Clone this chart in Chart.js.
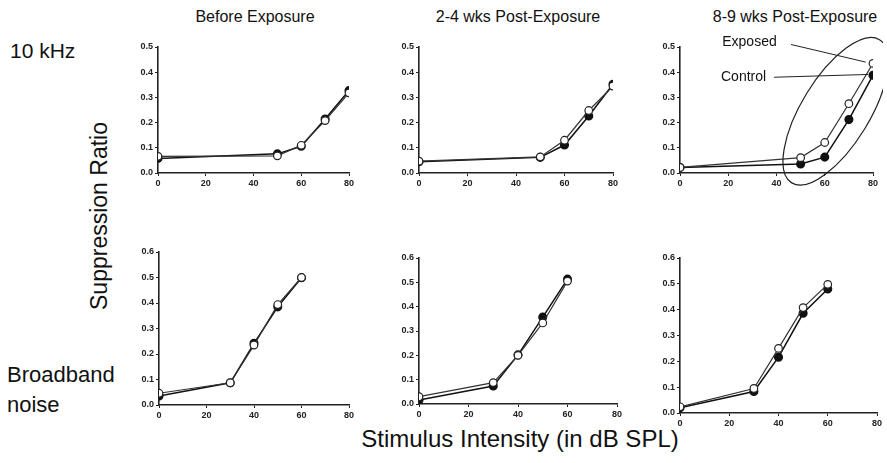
<!DOCTYPE html>
<html lang="en">
<head>
    <meta charset="UTF-8">
    <title>Suppression Ratio</title>
    <script src="https://cdn.jsdelivr.net/npm/chart.js"></script>
    <style>
        body { margin: 0; background: #fff; font-family: 'Liberation Sans', Arial, sans-serif; color: #111; }
        #page { position: relative; width: 887px; height: 463px; overflow: hidden; }
        .txt { position: absolute; white-space: nowrap; }
        .title { font-size: 16px; top: 8px; transform: translateX(-50%); }
        canvas { position: absolute; }
    </style>
</head>
<body>
<div id="page">
    <div class="txt title" style="left:255px;">Before Exposure</div>
    <div class="txt title" style="left:518px;">2-4 wks Post-Exposure</div>
    <div class="txt title" style="left:795px;">8-9 wks Post-Exposure</div>
    <div class="txt" style="left:10px; top:39px; font-size:21px;">10 kHz</div>
    <div class="txt" style="left:7px; top:360px; font-size:22px; line-height:30px;">Broadband<br>noise</div>
    <div class="txt" style="left:99px; top:216px; font-size:23px; transform: translate(-50%, -50%) rotate(-90deg);">Suppression Ratio</div>
    <div class="txt" style="left:520px; top:425px; font-size:24px; transform: translateX(-50%);">Stimulus Intensity (in dB SPL)</div>

    <canvas id="c1"></canvas>
    <canvas id="c2"></canvas>
    <canvas id="c3"></canvas>
    <canvas id="c4"></canvas>
    <canvas id="c5"></canvas>
    <canvas id="c6"></canvas>
</div>

<script>
    // stimulus levels (dB SPL)
    const levels10k = [0, 50, 60, 70, 80];
    const levelsBB = [0, 30, 40, 50, 60];

    // 10 kHz tone
    const tonePreControl = [0.058, 0.076, 0.106, 0.214, 0.327];
    const tonePreExposed = [0.066, 0.068, 0.110, 0.208, 0.318];
    const tone2to4Control = [0.045, 0.062, 0.111, 0.226, 0.352];
    const tone2to4Exposed = [0.047, 0.064, 0.130, 0.248, 0.345];
    const tone8to9Control = [0.022, 0.036, 0.063, 0.212, 0.388];
    const tone8to9Exposed = [0.022, 0.061, 0.121, 0.275, 0.435];

    // broadband noise
    const noisePreControl = [0.035, 0.087, 0.242, 0.385, 0.499];
    const noisePreExposed = [0.046, 0.087, 0.235, 0.394, 0.500];
    const noise2to4Control = [0.016, 0.074, 0.202, 0.357, 0.513];
    const noise2to4Exposed = [0.030, 0.088, 0.200, 0.333, 0.505];
    const noise8to9Control = [0.020, 0.083, 0.216, 0.386, 0.480];
    const noise8to9Exposed = [0.024, 0.095, 0.250, 0.408, 0.498];

    const xTicks = [0, 20, 40, 60, 80];

    const Y_W = 30, X_H = 20, PAD_T = 14, PAD_R = 10;

    // plot areas [left, top, right, bottom]
    const panels = [
        {id: 'c1', box: [158, 47, 349, 173], x: levels10k, ctrl: tonePreControl, exp: tonePreExposed, yMax: 0.5},
        {id: 'c2', box: [419, 47, 613, 173], x: levels10k, ctrl: tone2to4Control, exp: tone2to4Exposed, yMax: 0.5},
        {id: 'c3', box: [680, 47, 873, 173], x: levels10k, ctrl: tone8to9Control, exp: tone8to9Exposed, yMax: 0.5, note: true},
        {id: 'c4', box: [159, 252, 349, 405], x: levelsBB, ctrl: noisePreControl, exp: noisePreExposed, yMax: 0.6},
        {id: 'c5', box: [419, 258, 617, 404], x: levelsBB, ctrl: noise2to4Control, exp: noise2to4Exposed, yMax: 0.6},
        {id: 'c6', box: [680, 258, 877, 413], x: levelsBB, ctrl: noise8to9Control, exp: noise8to9Exposed, yMax: 0.6}
    ];

    // ellipse + labels in the last 10 kHz panel
    const notePlugin = {
        id: 'note',
        afterDatasetsDraw(chart) {
            const ctx = chart.ctx;
            const xs = chart.scales.x, ys = chart.scales.y;
            ctx.save();
            ctx.strokeStyle = '#222';
            ctx.lineWidth = 1.2;
            ctx.beginPath();
            ctx.ellipse(xs.getPixelForValue(64.5), ys.getPixelForValue(0.245), 84, 34, -58.5 * Math.PI / 180, 0, 2 * Math.PI);
            ctx.stroke();

            ctx.font = '14px "Liberation Sans", Arial, sans-serif';
            ctx.fillStyle = '#111';
            ctx.textBaseline = 'middle';
            ctx.fillText('Exposed', xs.getPixelForValue(17.5), ys.getPixelForValue(0.52));
            ctx.fillText('Control', xs.getPixelForValue(17), ys.getPixelForValue(0.38));

            ctx.lineWidth = 1;
            ctx.beginPath();
            ctx.moveTo(xs.getPixelForValue(46), ys.getPixelForValue(0.51));
            ctx.lineTo(xs.getPixelForValue(77), ys.getPixelForValue(tone8to9Exposed[4] + 0.005));
            ctx.moveTo(xs.getPixelForValue(39), ys.getPixelForValue(0.38));
            ctx.lineTo(xs.getPixelForValue(78), ys.getPixelForValue(tone8to9Control[4] + 0.003));
            ctx.stroke();
            ctx.restore();
        }
    };

    panels.forEach(p => {
        const [l, t, r, b] = p.box;
        const cv = document.getElementById(p.id);
        const w = (r - l) + Y_W + PAD_R;
        const h = (b - t) + PAD_T + X_H;
        cv.style.left = (l - Y_W) + 'px';
        cv.style.top = (t - PAD_T) + 'px';
        cv.style.width = w + 'px';
        cv.style.height = h + 'px';
        cv.width = w;
        cv.height = h;

        const tickFont = {family: "'Liberation Sans', Arial, sans-serif", size: 9, weight: 'bold'};

        new Chart(cv.getContext('2d'), {
            type: 'line',
            data: {
                datasets: [
                    {
                        label: 'Exposed',
                        data: p.x.map((v, i) => ({x: v, y: p.exp[i]})),
                        borderColor: '#333',
                        borderWidth: 1.2,
                        pointRadius: 3.8,
                        pointBackgroundColor: '#fff',
                        pointBorderColor: '#222',
                        pointBorderWidth: 1.2,
                        fill: false
                    },
                    {
                        label: 'Control',
                        data: p.x.map((v, i) => ({x: v, y: p.ctrl[i]})),
                        borderColor: '#111',
                        borderWidth: 1.5,
                        pointRadius: 3.8,
                        pointBackgroundColor: '#111',
                        pointBorderColor: '#111',
                        fill: false
                    }
                ]
            },
            options: {
                responsive: false,
                animation: false,
                layout: {padding: {top: PAD_T, right: PAD_R, left: 0, bottom: 0}},
                plugins: {legend: {display: false}, tooltip: {enabled: false}},
                scales: {
                    x: {
                        type: 'linear',
                        min: 0,
                        max: 80,
                        afterBuildTicks: s => { s.ticks = xTicks.map(v => ({value: v})); },
                        afterFit: s => { s.height = X_H; },
                        grid: {drawOnChartArea: false, drawTicks: true, tickLength: 3, color: '#222'},
                        border: {color: '#222', width: 1.6},
                        ticks: {font: tickFont, color: '#222', padding: 2, maxRotation: 0}
                    },
                    y: {
                        min: 0,
                        max: p.yMax,
                        afterFit: s => { s.width = Y_W; },
                        grid: {drawOnChartArea: false, drawTicks: true, tickLength: 3, color: '#222'},
                        border: {color: '#222', width: 1.6},
                        ticks: {stepSize: 0.1, font: tickFont, color: '#222', padding: 2, callback: v => v.toFixed(1)}
                    }
                }
            },
            plugins: p.note ? [notePlugin] : []
        });
    });
</script>
</body>
</html>
